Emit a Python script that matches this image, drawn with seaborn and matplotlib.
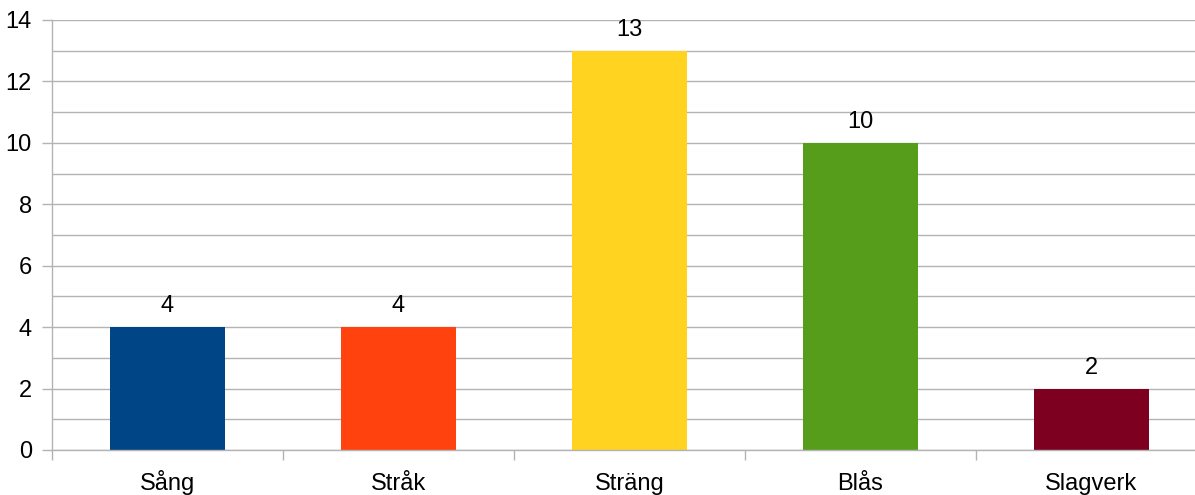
import matplotlib
matplotlib.use("Agg")
import matplotlib.pyplot as plt
import seaborn as sns
import pandas as pd

categories = ["Sång", "Stråk", "Sträng", "Blås", "Slagverk"]
counts = [4, 4, 13, 10, 2]
colors = ["#004586", "#ff420e", "#ffd320", "#579d1c", "#7e0021"]

sns.set_theme(style="white")
plt.rcParams["font.family"] = ["Liberation Sans", "DejaVu Sans"]

df = pd.DataFrame({"category": categories, "count": counts})

W, H = 1195, 495
fig = plt.figure(figsize=(W / 100, H / 100), dpi=100)
left, right, top, bottom = 52, 1207, 20, 450
ax = fig.add_axes([left / W, 1 - bottom / H, (right - left) / W, (bottom - top) / H])

sns.barplot(data=df, x="category", y="count", hue="category", palette=colors,
            width=0.5, legend=False, ax=ax, saturation=1, linewidth=0)

grid = "#b3b3b3"
fs = 17
ax.set_ylim(0, 14)
ax.set_xlim(-0.5, 4.5)
ax.set_yticks(range(0, 15, 2))
ax.set_yticks(range(0, 15), minor=True)
ax.yaxis.grid(True, which="both", color=grid, linewidth=1)
ax.set_axisbelow(True)

# category boundaries as x ticks, names centred between them
ax.set_xticks([i - 0.5 for i in range(len(categories) + 1)])
ax.set_xticklabels([])
ax.set_xticks(range(len(categories)), minor=True)
ax.set_xticklabels(categories, minor=True, fontsize=fs, color="black", va="baseline")
ax.tick_params(axis="x", which="major", length=7.5, width=1, color=grid, direction="out")
ax.tick_params(axis="x", which="minor", length=0, pad=28.5)
ax.tick_params(axis="y", which="major", length=7.5, width=1, color=grid, direction="out",
               labelsize=fs, labelcolor="black", pad=7)
ax.tick_params(axis="y", which="minor", length=0)
ax.tick_params(axis="both", bottom=True, left=True)

for s in ["top", "right"]:
    ax.spines[s].set_visible(False)
for s in ["left", "bottom"]:
    ax.spines[s].set_color(grid)
    ax.spines[s].set_linewidth(1)

ax.set_xlabel("")
ax.set_ylabel("")

for i, v in enumerate(counts):
    ax.annotate(str(v), (i, v), xytext=(0, 7), textcoords="offset points",
                ha="center", va="bottom", fontsize=fs, color="black")

fig.savefig("out.png", dpi=100)
